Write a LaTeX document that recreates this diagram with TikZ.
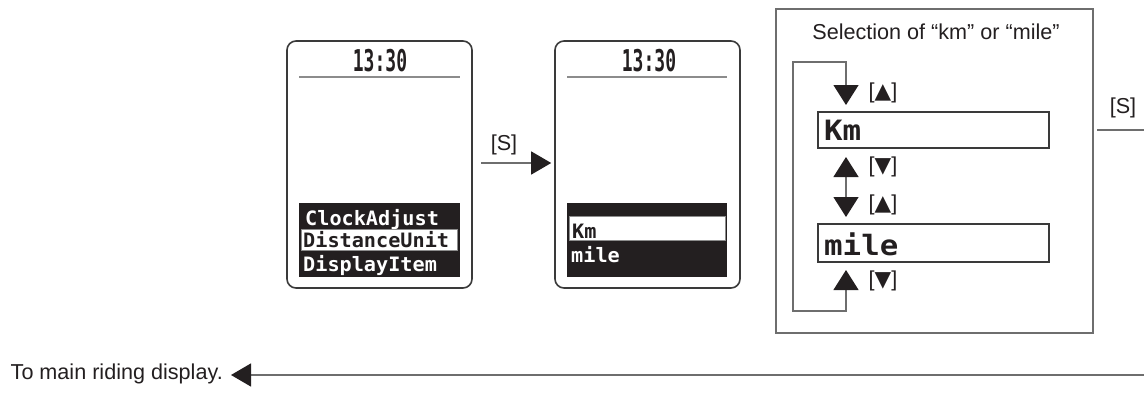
\documentclass[tikz,border=0pt]{standalone}
\usepackage{fontspec}
\setmainfont{Liberation Sans}
\newfontfamily\lcdfont[FakeStretch=1.1]{DejaVu Sans Mono}
\newfontfamily\lcdsfont[FakeStretch=1.02]{DejaVu Sans Mono}
\newfontfamily\timefont[FakeStretch=0.6]{DejaVu Sans Mono}
\newfontfamily\symfont{DejaVu Sans}
\usetikzlibrary{arrows.meta}
\definecolor{ink}{HTML}{231F20}
\definecolor{frame}{HTML}{3A3A3A}
\definecolor{wire}{HTML}{6E6E6E}
\definecolor{sepc}{HTML}{8C8C8C}
\tikzset{
  panel/.style={draw=frame, line width=1.6pt, rounded corners=9pt, minimum width=185pt, minimum height=247pt, inner sep=0pt},
  blackbox/.style={fill=ink, draw=none, minimum width=161pt, minimum height=74pt, inner sep=0pt},
  hilite/.style={fill=white, draw=sepc, line width=0.6pt, inner sep=0pt},
  lcdsmall/.style={font=\lcdsfont\bfseries\fontsize{19.8}{19.8}\selectfont, anchor=base west, inner sep=0pt},
  lcdbig/.style={font=\lcdfont\bfseries\fontsize{28}{28}\selectfont, anchor=base west, inner sep=0pt, text=ink},
  timetext/.style={font=\timefont\bfseries\fontsize{30}{30}\selectfont, inner sep=0pt, text=ink},
  sepline/.style={draw=sepc, line width=1.2pt},
  label/.style={font=\fontsize{21.6}{25}\selectfont, text=ink, inner sep=0pt},
  wireline/.style={draw=wire, line width=1.3pt},
  arr/.style={wireline, -{Triangle[length=20pt,width=23pt,color=ink]}},
  selbox/.style={draw=frame, line width=1.6pt, minimum width=231pt, minimum height=36pt, inner sep=0pt},
  outer/.style={draw=wire, line width=1.4pt, minimum width=317pt, minimum height=324pt, inner sep=0pt},
  looparr/.style={wireline, {Triangle[length=20pt,width=25pt,color=ink]}-{Triangle[length=20pt,width=25pt,color=ink]}},
}
\begin{document}
\begin{tikzpicture}[x=1pt,y=-1pt]
\useasboundingbox (0,0) rectangle (1144,392);

% ---------- panel 1 ----------
\node[panel] (p1) at (379.5,164.5) {};
\node[timetext] (t1) at (380,61) {13:30};
\draw[sepline] (299,77) -- (460,77);
\node[blackbox] (m1) at (379.5,240) {};
\node[hilite, minimum width=156pt, minimum height=21pt] (h1) at (379,239.5) {};
\node[lcdsmall, text=white] (ca) at (305,225) {ClockAdjust};
\node[lcdsmall, text=ink] (du) at (303,247.5) {DistanceUnit};
\node[lcdsmall, text=white] (di) at (303,271) {DisplayItem};

% ---------- panel 2 ----------
\node[panel] (p2) at (647.5,164.5) {};
\node[timetext] (t2) at (649,61) {13:30};
\draw[sepline] (567,77) -- (727,77);
\node[blackbox, minimum width=160pt] (m2) at (647,240) {};
\node[hilite, minimum width=156pt, minimum height=24pt] (h2) at (647,228.5) {};
\node[lcdsmall, text=ink] (k2) at (572,238) {Km};
\node[lcdsmall, text=white] (mi2) at (571,262) {mile};

% ---------- arrow p1 -> p2 ----------
\coordinate (a1) at (481,163);
\draw[arr, shorten >=3pt] (a1) -- (p2.west |- a1);
\node[label] (s1) at (504,145) {[S]};

% ---------- panel 3 ----------
\node[outer] (sel) at (934.5,171) {};
\node[label] (title) at (936,32) {Selection of “km” or “mile”};
\node[selbox] (km) at (933.5,130) {};
\node[lcdbig] (kmt) at (824,140.5) {Km};
\node[selbox, minimum height=38pt] (mile) at (933.5,243) {};
\node[lcdbig] (milet) at (824,255.5) {mile};

\coordinate (lb) at (846,270);
\coordinate (lbb) at (846,311);
\coordinate (llb) at (793,311);
\coordinate (llt) at (793,62);
\coordinate (lt) at (846,62);
\coordinate (ltt) at (846,105);
\draw[looparr] (lb) -- (lbb) -- (llb) -- (llt) -- (lt) -- (ltt);

\coordinate (mu) at (846,157);
\coordinate (md) at (846,217);
\draw[looparr] (mu) -- (md);

\node[label] (u1) at (883,93) {[{\symfont ▲}]};
\node[label] (d1) at (883,167) {[{\symfont ▼}]};
\node[label] (u2) at (883,205) {[{\symfont ▲}]};
\node[label] (d2) at (883,281) {[{\symfont ▼}]};

% ---------- exit ----------
\node[label] (s2) at (1123,108) {[S]};
\coordinate (r1) at (1097,130);
\coordinate (r2) at (1144,130);
\draw[wireline] (r1) -- (r2);

\node[label, anchor=base east] (main) at (223,379) {To main riding display.};
\coordinate (r3) at (1144,375);
\draw[arr] (r3) -- ([xshift=8pt]main.east |- r3);
\end{tikzpicture}
\end{document}
